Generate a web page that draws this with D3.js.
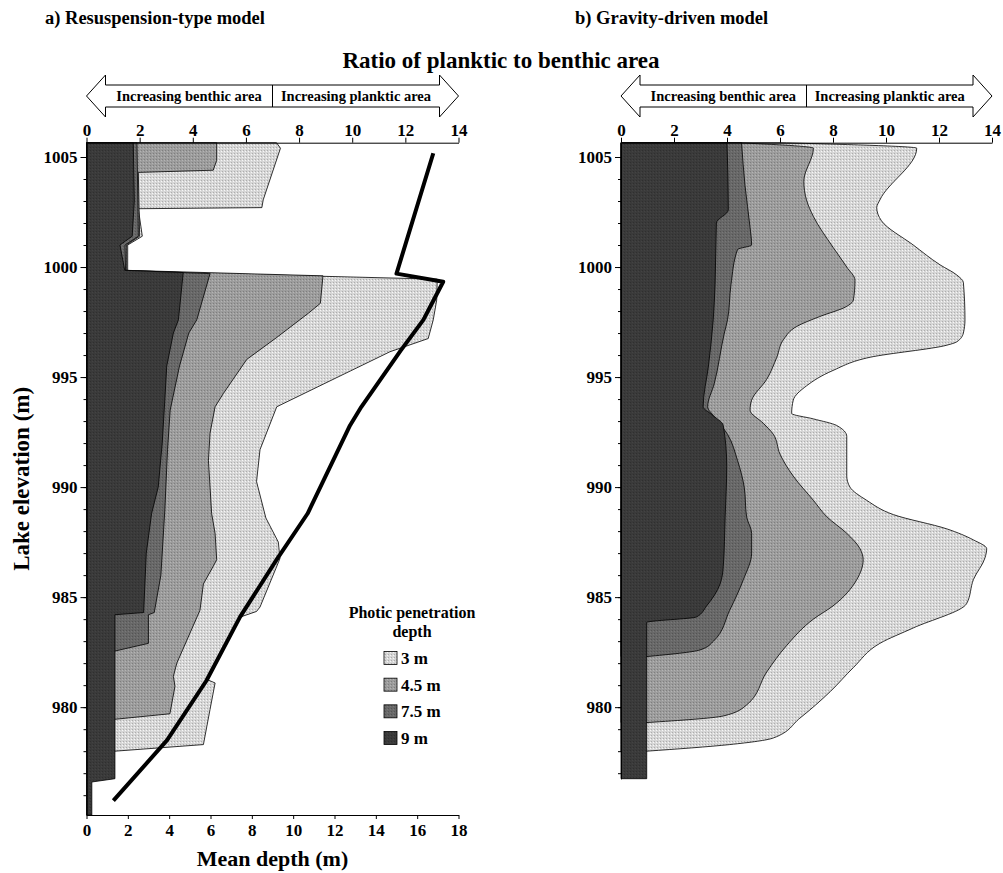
<!DOCTYPE html>
<html>
<head>
<meta charset="utf-8">
<script src="https://cdn.jsdelivr.net/npm/d3@7"></script>
<style>
  body { margin: 0; background: #fff; }
  svg { display: block; font-family: "Liberation Serif", "Times New Roman", serif; font-weight: bold; }
  .axis path, .axis line { stroke: #000; stroke-width: 1; }
  .axis text { font-family: "Liberation Serif", serif; font-weight: bold; font-size: 17px; fill: #000; }
</style>
</head>
<body>
<svg id="chart" width="1003" height="873"></svg>
<script>
// ticks
const elevTicks = [980, 985, 990, 995, 1000, 1005];
const ratioTicks = [0, 2, 4, 6, 8, 10, 12, 14];
const depthTicks = [0, 2, 4, 6, 8, 10, 12, 14, 16, 18];
const seriesNames = ["3 m", "4.5 m", "7.5 m", "9 m"];
const seriesFill = ["#d6d6d6", "#9c9c9c", "#686868", "#3a3a3a"];

// a) resuspension-type model: [lake elevation, ratio]
const resus3m = [
  [1005.65, 7.15], [1005.4, 7.3], [1003.05, 6.65], [1002.7, 6.6], [1002.65, 1.95],
  [1001.4, 2.1], [1001.0, 1.55], [999.8, 1.55], [999.45, 13.2], [998.5, 13.18],
  [997.6, 13.05], [996.75, 12.86], [996.15, 11.42], [993.65, 7.16], [991.7, 6.53],
  [990.25, 6.4], [988.6, 6.75], [987.5, 7.22], [986.75, 7.28], [984.55, 6.53],
  [984.35, 6.4], [984.1, 5.8], [982.6, 5.1], [981.25, 4.55], [981.1, 4.84],
  [979.9, 4.65], [978.3, 4.4], [978.0, 1.07]
];
const resus4_5m = [
  [1005.65, 4.9], [1004.85, 4.9], [1004.4, 4.77], [1004.3, 1.95], [1001.4, 2.0],
  [1001.0, 1.5], [999.85, 1.5], [999.6, 8.9], [998.35, 8.8], [997.9, 8.35],
  [996.8, 7.16], [995.8, 6.03], [994.25, 5.15], [993.65, 4.84], [992.45, 4.65],
  [991.2, 4.59], [990.0, 4.65], [988.8, 4.71], [987.9, 4.84], [986.7, 4.9],
  [986.4, 4.77], [985.6, 4.4], [984.4, 4.27], [982.0, 3.4], [981.4, 3.27],
  [980.95, 3.33], [979.7, 3.14], [979.45, 1.07]
];
const resus7_5m = [
  [1005.65, 1.9], [1001.4, 1.95], [1001.0, 1.45], [999.85, 1.47], [999.7, 4.65],
  [997.6, 4.15], [997.0, 3.85], [995.5, 3.5], [993.5, 3.15], [991.7, 3.05],
  [989.0, 2.95], [986.0, 2.8], [984.3, 2.55], [984.2, 2.33], [982.9, 2.33],
  [982.55, 1.07]
];
const resus9m = [
  [1005.65, 1.76], [1003.0, 1.8], [1001.4, 1.72], [1001.0, 1.26], [999.85, 1.44],
  [999.75, 3.64], [997.6, 3.46], [997.0, 3.27], [995.5, 3.02], [994.0, 2.95],
  [992.0, 2.85], [990.0, 2.7], [988.8, 2.45], [987.0, 2.25], [984.3, 2.15],
  [984.2, 1.07], [976.75, 1.07], [976.6, 0.2], [975.1, 0.2]
];
// mean depth line: [lake elevation, depth m]
const meanDepth = [
  [1005.17, 16.78], [999.7, 15.0], [999.33, 17.26], [998.5, 16.8], [997.6, 16.3],
  [996.2, 15.2], [993.65, 13.3], [992.8, 12.75], [988.8, 10.7], [986.7, 9.2],
  [984.1, 7.43], [981.2, 5.8], [978.5, 3.9], [975.75, 1.3]
];

// b) gravity-driven model: [lake elevation, ratio]
const grav3m = [
  [1005.65, 6.0], [1005.4, 11.16], [1003.05, 9.77], [1002.7, 9.65], [1002.1, 9.83],
  [1001.0, 11.03], [1000.1, 12.04], [999.64, 12.67], [999.3, 12.92], [997.6, 12.98],
  [997.0, 12.92], [996.6, 12.67], [996.45, 12.3], [995.9, 9.4], [995.3, 8.0],
  [994.6, 7.0], [993.95, 6.5], [993.35, 6.44], [993.1, 7.26], [992.8, 8.14],
  [992.3, 8.52], [990.5, 8.52], [990.0, 8.64], [989.4, 9.27], [988.75, 10.28],
  [988.1, 12.3], [987.6, 13.3], [987.2, 13.8], [986.8, 13.74], [985.8, 13.3],
  [984.7, 13.04], [983.6, 11.03], [982.9, 9.77], [981.8, 8.77], [980.7, 7.89],
  [979.5, 6.75], [978.6, 5.75], [978.3, 4.1], [978.0, 0.97]
];
const grav4_5m = [
  [1005.65, 4.37], [1005.4, 7.26], [1003.9, 6.9], [1003.05, 7.0], [1002.3, 7.26],
  [1000.9, 8.0], [1000.0, 8.52], [999.4, 8.83], [998.5, 8.77], [998.2, 8.5],
  [997.75, 7.5], [997.3, 6.63], [996.7, 6.13], [995.9, 5.88], [994.9, 5.5],
  [993.95, 4.93], [993.5, 4.87], [992.9, 5.37], [992.4, 5.75], [991.5, 6.0],
  [990.5, 6.5], [989.4, 7.26], [988.65, 7.77], [987.9, 8.52], [987.2, 9.02],
  [986.7, 9.14], [985.8, 8.9], [984.6, 8.0], [984.0, 7.26], [982.8, 6.25],
  [981.6, 5.5], [980.1, 4.74], [979.6, 3.86], [979.3, 0.97]
];
const grav7_5m = [
  [1005.65, 4.55], [1003.7, 4.68], [1001.8, 4.87], [1001.0, 4.93], [1000.8, 4.4],
  [999.2, 4.15], [997.6, 4.02], [997.0, 3.9], [994.7, 3.52], [993.65, 3.27],
  [993.2, 3.52], [992.4, 4.02], [991.2, 4.4], [990.0, 4.65], [988.65, 4.74],
  [987.9, 4.93], [987.0, 4.93], [985.8, 4.62], [984.4, 4.1], [983.0, 3.49],
  [982.6, 2.98], [982.3, 0.97]
];
const grav9m = [
  [1005.65, 4.0], [1002.6, 4.05], [1002.0, 3.6], [999.2, 3.55], [997.6, 3.48],
  [995.5, 3.3], [993.65, 3.1], [993.3, 3.42], [992.8, 3.86], [990.95, 3.99],
  [988.65, 3.93], [986.4, 3.86], [985.6, 3.74], [984.6, 3.23], [984.1, 2.85],
  [983.85, 0.97], [976.75, 0.97]
];

const svg = d3.select("#chart");
svg.append("rect").attr("width", 1003).attr("height", 873).attr("fill", "#fff");

// halftone-like textures for the grey fills
const defs = svg.append("defs");
seriesFill.forEach((c, i) => {
  const p = defs.append("pattern")
    .attr("id", `tex${i}`)
    .attr("width", 3).attr("height", 3)
    .attr("patternUnits", "userSpaceOnUse");
  p.append("rect").attr("width", 3).attr("height", 3).attr("fill", c);
  p.append("rect").attr("x", 0).attr("y", 0).attr("width", 1).attr("height", 1)
    .attr("fill", d3.color(c).darker(0.6));
  p.append("rect").attr("x", 2).attr("y", 1).attr("width", 1).attr("height", 1)
    .attr("fill", d3.color(c).brighter(0.4));
});

const yScale = d3.scaleLinear().domain([975.1, 1005.65]).range([815, 142.7]);
const xLeft = d3.scaleLinear().domain([0, 14]).range([86.5, 458.5]);
const xDepth = d3.scaleLinear().domain([0, 18]).range([86.5, 458.5]);
const xRight = d3.scaleLinear().domain([0, 14]).range([621, 992]);

function drawAreas(xScale, sets, curve) {
  const area = d3.area()
    .y((d) => yScale(d[0]))
    .x0(xScale(0))
    .x1((d) => xScale(d[1]))
    .curve(curve);
  sets.forEach((data, i) => {
    svg.append("path")
      .datum(data)
      .attr("d", area)
      .attr("fill", `url(#tex${i})`)
      .attr("stroke", "#000")
      .attr("stroke-width", 0.8)
      .attr("stroke-linejoin", "round");
  });
}

drawAreas(xLeft, [resus3m, resus4_5m, resus7_5m, resus9m], d3.curveLinear);
drawAreas(xRight, [grav3m, grav4_5m, grav7_5m, grav9m], d3.curveMonotoneY);

// mean depth line
svg.append("path")
  .datum(meanDepth)
  .attr("d", d3.line().x((d) => xDepth(d[1])).y((d) => yScale(d[0])))
  .attr("fill", "none")
  .attr("stroke", "#000")
  .attr("stroke-width", 4)
  .attr("stroke-linejoin", "round");

// axes
function topAxis(xScale) {
  svg.append("g")
    .attr("class", "axis")
    .attr("transform", `translate(0,${yScale(1005.65)})`)
    .call(d3.axisTop(xScale).tickValues(ratioTicks).tickSize(5).tickPadding(2).tickSizeOuter(0));
}
topAxis(xLeft);
topAxis(xRight);

function leftAxis(x0, lowElev) {
  const ys = yScale.copy().domain([lowElev, 1005.65]).range([yScale(lowElev), yScale(1005.65)]);
  const minor = d3.range(Math.ceil(lowElev), 1006);
  svg.append("g")
    .attr("class", "axis")
    .attr("transform", `translate(${x0},0)`)
    .call(d3.axisLeft(ys).tickValues(minor).tickSize(3).tickFormat("").tickSizeOuter(0));
  svg.append("g")
    .attr("class", "axis")
    .attr("transform", `translate(${x0},0)`)
    .call(d3.axisLeft(ys).tickValues(elevTicks).tickFormat(d3.format("d"))
      .tickSize(6).tickPadding(3).tickSizeOuter(0));
}
leftAxis(xLeft(0), 975.1);
leftAxis(xRight(0), 976.75);

svg.append("g")
  .attr("class", "axis")
  .attr("transform", `translate(0,${yScale(975.1)})`)
  .call(d3.axisBottom(xDepth).tickValues(depthTicks).tickSize(4).tickPadding(5).tickSizeOuter(0));

// arrows
function arrow(xScale) {
  const x0 = xScale(0), x1 = xScale(14), xm = xScale(7), cy = 96;
  const hl = 19, hh = 21, bh = 11;
  const pts = [
    [x0, cy], [x0 + hl, cy - hh], [x0 + hl, cy - bh], [x1 - hl, cy - bh], [x1 - hl, cy - hh],
    [x1, cy], [x1 - hl, cy + hh], [x1 - hl, cy + bh], [x0 + hl, cy + bh], [x0 + hl, cy + hh]
  ];
  svg.append("path")
    .attr("d", d3.line()(pts) + "Z")
    .attr("fill", "#fff")
    .attr("stroke", "#000")
    .attr("stroke-width", 1);
  svg.append("line")
    .attr("x1", xm).attr("x2", xm).attr("y1", cy - bh).attr("y2", cy + bh)
    .attr("stroke", "#000");
  svg.append("text")
    .attr("x", (x0 + hl + xm) / 2).attr("y", cy + 5)
    .attr("text-anchor", "middle").attr("font-size", 14.5)
    .text("Increasing benthic area");
  svg.append("text")
    .attr("x", (xm + x1 - hl) / 2).attr("y", cy + 5)
    .attr("text-anchor", "middle").attr("font-size", 14.5)
    .text("Increasing planktic area");
}
arrow(xLeft);
arrow(xRight);

// titles
svg.append("text").attr("x", 45).attr("y", 24).attr("font-size", 18.5)
  .text("a) Resuspension-type model");
svg.append("text").attr("x", 575).attr("y", 24).attr("font-size", 18.5)
  .text("b) Gravity-driven model");
svg.append("text").attr("x", 501).attr("y", 68).attr("font-size", 23)
  .attr("text-anchor", "middle").text("Ratio of planktic to benthic area");
svg.append("text").attr("x", (xDepth(0) + xDepth(18)) / 2).attr("y", 866)
  .attr("font-size", 22).attr("text-anchor", "middle").text("Mean depth (m)");
svg.append("text")
  .attr("transform", `translate(29,${(yScale(975.1) + yScale(1005.65)) / 2}) rotate(-90)`)
  .attr("font-size", 23).attr("text-anchor", "middle").text("Lake elevation (m)");

// legend
const legend = svg.append("g").attr("transform", "translate(412,0)");
legend.append("text").attr("y", 618).attr("text-anchor", "middle").attr("font-size", 16)
  .text("Photic penetration");
legend.append("text").attr("y", 637).attr("text-anchor", "middle").attr("font-size", 16)
  .text("depth");
const rowY = d3.scalePoint().domain(seriesNames).range([658, 738]);
seriesNames.forEach((name, i) => {
  legend.append("rect")
    .attr("x", -28).attr("y", rowY(name) - 6.5).attr("width", 13).attr("height", 13)
    .attr("fill", `url(#tex${i})`).attr("stroke", "#000").attr("stroke-width", 0.8);
  legend.append("text").attr("x", -11).attr("y", rowY(name) + 6).attr("font-size", 17)
    .text(name);
});
</script>
</body>
</html>
